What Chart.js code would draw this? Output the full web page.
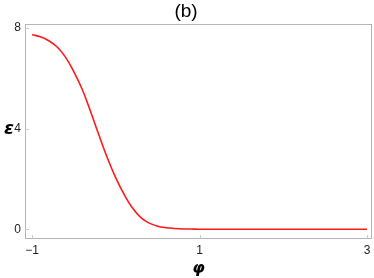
<!DOCTYPE html>
<html>
<head>
<meta charset="utf-8">
<script src="https://cdn.jsdelivr.net/npm/chart.js@4"></script>
<style>
html,body{margin:0;padding:0;background:#fff;}
#wrap{width:374px;height:278px;}
</style>
</head>
<body>
<div id="wrap"><canvas id="c" width="374" height="278"></canvas></div>
<script>
const phi = [-1.0,-0.9,-0.8,-0.7,-0.6,-0.5,-0.4,-0.3,-0.2,-0.1,0.0,0.1,0.2,0.3,0.4,0.5,0.6,0.7,0.8,0.9,1.0,1.5,2.0,2.5,3.0];
const eps = [7.73,7.65,7.49,7.24,6.84,6.25,5.55,4.67,3.73,2.83,2.04,1.38,0.84,0.46,0.24,0.12,0.06,0.03,0.01,0.005,0,0,0,0,0];
const xTicks = [-1,1,3];
const yTicks = [0,4,8];
const titleText = '(b)';
const xTitle = 'φ';
const yTitle = 'ε';

const points = phi.map((x,i)=>({x:x,y:eps[i]}));
const frameColor = '#b4b4b4';

const framePlugin = {
  id:'frame',
  afterDraw(chart){
    const {ctx, chartArea:a, scales} = chart;
    ctx.save();
    ctx.strokeStyle = frameColor;
    ctx.lineWidth = 1;
    ctx.strokeRect(Math.round(a.left)+0.5, Math.round(a.top)+0.5, Math.round(a.right-a.left)-1, Math.round(a.bottom-a.top)-1);
    ctx.strokeStyle = '#c8c8c8';
    ctx.beginPath();
    xTicks.forEach(v=>{
      const px = Math.round(scales.x.getPixelForValue(v))+0.5;
      ctx.moveTo(px, a.bottom); ctx.lineTo(px, a.bottom-4);
    });
    yTicks.forEach(v=>{
      const py = Math.round(scales.y.getPixelForValue(v))+0.5;
      ctx.moveTo(a.left, py); ctx.lineTo(a.left+4, py);
    });
    ctx.stroke();
    ctx.fillStyle = '#000';
    ctx.font = 'italic bold 18px "DejaVu Sans", sans-serif';
    ctx.textAlign = 'center';
    ctx.textBaseline = 'middle';
    ctx.fillText(yTitle, 9, scales.y.getPixelForValue(4)+1);
    ctx.restore();
  }
};

new Chart(document.getElementById('c'), {
  type:'line',
  data:{datasets:[{
    data:points,
    borderColor:'#ff1a1a',
    borderWidth:1.6,
    pointRadius:0,
    fill:false,
    tension:0.4
  }]},
  options:{
    responsive:false,
    animation:false,
    events:[],
    layout:{padding:{top:0,right:2,left:0,bottom:0}},
    plugins:{
      legend:{display:false},
      tooltip:{enabled:false},
      title:{display:true,text:titleText,color:'#000',
        font:{family:'"Liberation Sans", Arial, sans-serif',size:19,weight:'normal',lineHeight:1.1},
        padding:{top:1,bottom:2}}
    },
    scales:{
      x:{type:'linear',min:-1.084,max:3.06,
        afterBuildTicks:s=>{s.ticks = xTicks.map(v=>({value:v}));},
        afterFit:s=>{s.height=39; s.paddingLeft=0; s.paddingRight=0;},
        grid:{display:false,drawTicks:false},
        border:{display:false},
        ticks:{padding:4,color:'#222',font:{family:'"Liberation Sans", Arial, sans-serif',size:12},
          callback:v=>String(v).replace('-','\u2212'), maxRotation:0, autoSkip:false},
        title:{display:true,text:xTitle,color:'#000',
          font:{family:'"DejaVu Sans", sans-serif',size:16,style:'italic',weight:'bold',lineHeight:1.2},
          padding:{top:0,bottom:0}}
      },
      y:{type:'linear',min:-0.39,max:8.16,
        afterBuildTicks:s=>{s.ticks = yTicks.map(v=>({value:v}));},
        afterFit:s=>{s.width=25; s.paddingTop=0; s.paddingBottom=0;},
        grid:{display:false,drawTicks:false},
        border:{display:false},
        ticks:{padding:4,color:'#222',font:{family:'"Liberation Sans", Arial, sans-serif',size:12},autoSkip:false}
      }
    }
  },
  plugins:[framePlugin]
});
</script>
</body>
</html>
